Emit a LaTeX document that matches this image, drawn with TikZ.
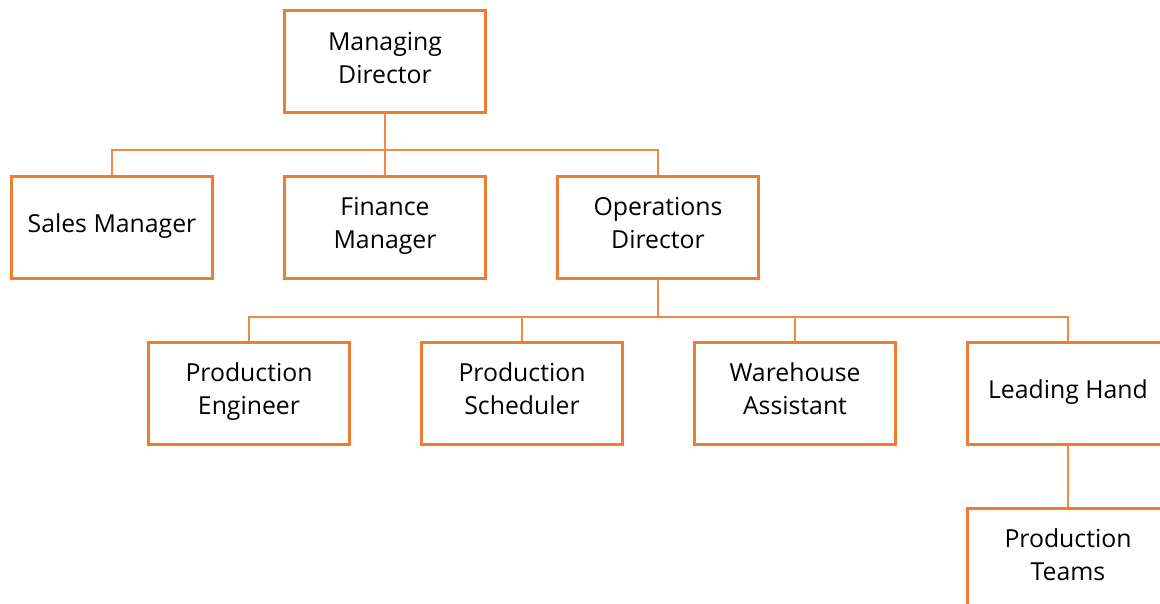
\documentclass[tikz,border=0pt]{standalone}
\usepackage{fontspec}
\setmainfont{Open Sans}
\definecolor{boxorange}{HTML}{ED7D31}
\definecolor{lineorange}{HTML}{F08A4B}
\begin{document}
\begin{tikzpicture}[x=1pt,y=-1pt,
  orgbox/.style={draw=boxorange,line width=3pt,fill=white,minimum width=201pt,minimum height=102pt,
    inner sep=0pt,align=center,font=\fontsize{24.8}{33}\selectfont,text=black,text depth=9pt},
  conn/.style={draw=lineorange,line width=1.4pt}]
\useasboundingbox (0,0) rectangle (1160,604);
\coordinate (busA) at (0,150);
\coordinate (busB) at (0,317);
\node[orgbox] (md) at (385,62) {Managing\\Director};
\node[orgbox] (sm) at (112,227.5) {Sales Manager};
\node[orgbox] (fm) at (385,227.5) {Finance\\Manager};
\node[orgbox] (od) at (658,227.5) {Operations\\Director};
\node[orgbox] (pe) at (249,393.5) {Production\\Engineer};
\node[orgbox] (ps) at (522,393.5) {Production\\Scheduler};
\node[orgbox] (wa) at (795,393.5) {Warehouse\\Assistant};
\node[orgbox] (lh) at (1068,393.5) {Leading Hand};
\node[orgbox] (pt) at (1068,559.5) {Production\\Teams};
\draw[conn] (md.south) -- (fm.north);
\draw[conn] (sm.north) -- (sm.north |- busA) -- (od.north |- busA) -- (od.north);
\draw[conn] (od.south) -- (od.south |- busB);
\draw[conn] (pe.north) -- (pe.north |- busB) -- (lh.north |- busB) -- (lh.north);
\draw[conn] (ps.north) -- (ps.north |- busB);
\draw[conn] (wa.north) -- (wa.north |- busB);
\draw[conn] (lh.south) -- (pt.north);
\end{tikzpicture}
\end{document}
